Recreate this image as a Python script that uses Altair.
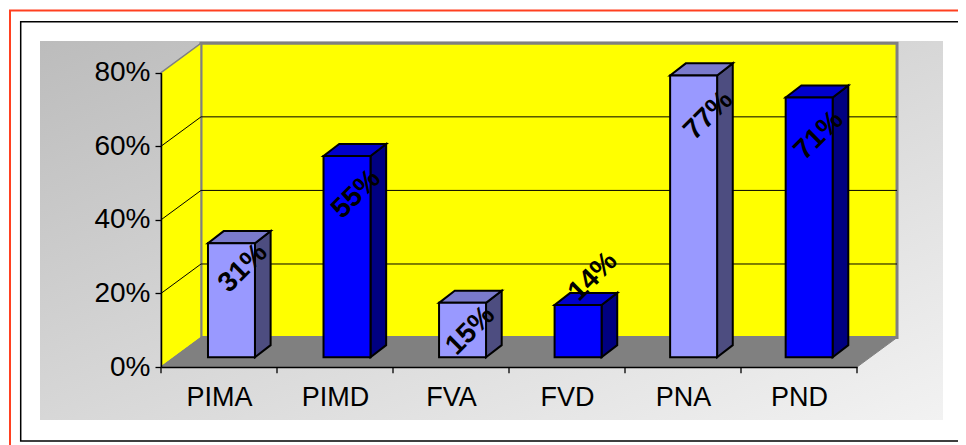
import altair as alt
import pandas as pd

categories = ["PIMA", "PIMD", "FVA", "FVD", "PNA", "PND"]
labels = ["31%", "55%", "15%", "14%", "77%", "71%"]
values = [31, 54.7, 14.8, 14.2, 76.6, 70.6]
front = ["#9999ff", "#0000ff"]
side = ["#4d4d80", "#000080"]
top = ["#7a7acc", "#0000cc"]
# label centre shift from the bar's top centre (x in slots, y in percent)
shift_x = [0.10, 0.08, 0.07, 0.13, 0.13, 0.085]
shift_y = [-6.8, -10.4, -7.6, 7.7, -10.9, -10.3]

W, H = 950, 437
DX, DY = 0.345, 8.0       # wall depth
BDX, BDY = 0.135, 3.3     # bar depth
BASE = 2.64               # bar plane above axis floor
BW = 0.405
FONT = "Liberation Sans"

sx = alt.Scale(domain=[0, 6], range=[153, 849])
sy = alt.Scale(domain=[0, 80], range=[359, 64.7])
ax_x = alt.Axis(values=[i + 0.5 for i in range(6)], title=None, ticks=False, grid=False,
                labelExpr="['PIMA','PIMD','FVA','FVD','PNA','PND'][floor(datum.value)]",
                labelFont=FONT, labelFontSize=27, labelColor="#000000", labelPadding=17,
                labelFlush=False, labelOverlap=False, labelAngle=0,
                domainColor="#000000", domainWidth=1.5, offset=-(H - 359), zindex=1)
ax_y = alt.Axis(values=[0, 20, 40, 60, 80], title=None, grid=False, tickSize=6, tickColor="#000000",
                tickWidth=1.3, labelExpr="datum.value + '%'", labelFont=FONT, labelFontSize=28,
                labelColor="#000000", labelPadding=5, labelOverlap=False, labelFlush=False,
                domainColor="#000000", domainWidth=1.5, offset=-153, zindex=1)
X = alt.X("x:Q", scale=sx, axis=ax_x)
Y = alt.Y("y:Q", scale=sy, axis=ax_y)


def frame(x0, y0, x1, y1, **kw):
    return alt.Chart().mark_rect(**kw).encode(
        x=alt.value(x0), x2=alt.value(x1), y=alt.value(y0), y2=alt.value(y1))


panel_fill = alt.LinearGradient(gradient="linear", x1=0, y1=0, x2=1, y2=1, stops=[
    alt.GradientStop(offset=0, color="#bcbcbc"), alt.GradientStop(offset=1, color="#f2f2f2")])
backdrop = [
    frame(2, 2.5, 1000, 1000, fill="#ffffff", stroke="#ff4020", strokeWidth=2),
    frame(12.7, 13.7, 956.3, 433, fill="#ffffff", stroke="#000000", strokeWidth=1.5),
    frame(32, 33, 935, 412, fill=panel_fill),
]

wall_back = alt.Chart(pd.DataFrame([{"x": DX, "x2": 6 + DX, "y": DY, "y2": 80 + DY}])).mark_rect(
    fill="#ffff00", stroke="#808080", strokeWidth=3).encode(x=X, x2="x2:Q", y=Y, y2="y2:Q")
wall_left = alt.Chart(pd.DataFrame([
    {"x": 0, "y": 0, "y2": 80}, {"x": DX, "y": DY, "y2": 80 + DY}])).mark_area(
    fill="#ffff00", stroke="#808080", strokeWidth=1.5).encode(x=X, y=Y, y2="y2:Q")
floor = alt.Chart(pd.DataFrame([
    {"x": 0, "x2": 6, "y": 0}, {"x": DX, "x2": 6 + DX, "y": DY}])).mark_area(
    orient="horizontal", fill="#808080", stroke="#808080", strokeWidth=1).encode(x=X, x2="x2:Q", y=Y)

grid_rows = []
for g in [20, 40, 60]:
    grid_rows += [{"x": 0, "y": g, "g": g}, {"x": DX, "y": g + DY, "g": g}, {"x": 6 + DX, "y": g + DY, "g": g}]
grid = alt.Chart(pd.DataFrame(grid_rows)).mark_line(color="#000000", strokeWidth=1).encode(
    x=X, y=Y, detail="g:N")

front_rows, side_rows, top_rows, label_rows = [], [], [], []
for i, (c, v) in enumerate(zip(categories, values)):
    k = i % 2
    left = i * 0.996 + 0.405
    right = left + BW
    t = BASE + v
    front_rows.append({"x": left, "x2": right, "y": BASE, "y2": t, "fill": front[k]})
    side_rows += [{"x": right, "y": BASE, "y2": t, "bar": c, "fill": side[k]},
                  {"x": right + BDX, "y": BASE + BDY, "y2": t + BDY, "bar": c, "fill": side[k]}]
    top_rows += [{"x": left, "x2": right, "y": t, "bar": c, "fill": top[k]},
                 {"x": left + BDX, "x2": right + BDX, "y": t + BDY, "bar": c, "fill": top[k]}]
    label_rows.append({"x": left + BW / 2 + shift_x[i], "y": t + shift_y[i], "label": labels[i]})

FILL = alt.Fill("fill:N", scale=None)
bars_side = alt.Chart(pd.DataFrame(side_rows)).mark_area(stroke="#000000", strokeWidth=2).encode(
    x=X, y=Y, y2="y2:Q", detail="bar:N", fill=FILL)
bars_top = alt.Chart(pd.DataFrame(top_rows)).mark_area(orient="horizontal", stroke="#000000", strokeWidth=2).encode(
    x=X, x2="x2:Q", y=Y, detail="bar:N", fill=FILL)
bars_front = alt.Chart(pd.DataFrame(front_rows)).mark_rect(stroke="#000000", strokeWidth=2).encode(
    x=X, x2="x2:Q", y=Y, y2="y2:Q", fill=FILL)
bar_labels = alt.Chart(pd.DataFrame(label_rows)).mark_text(
    angle=315, font=FONT, fontSize=28, fontWeight="bold", color="#000000", align="center", baseline="middle"
).encode(x=X, y=Y, text="label:N")
ticks = alt.Chart(pd.DataFrame({"x": list(range(7)), "y": [0] * 7, "y2": [-1.7] * 7})).mark_rule(
    color="#000000", strokeWidth=1.3).encode(x=X, y=Y, y2="y2:Q")

chart = alt.layer(
    *backdrop, wall_back, wall_left, floor, grid, ticks,
    bars_side, bars_top, bars_front, bar_labels,
).properties(width=W, height=H, padding=0, autosize=alt.AutoSizeParams(type="none"),
             background="#ffffff").configure_view(stroke=None)

chart.save("out.html", embed_options={"renderer": "svg", "actions": False})
